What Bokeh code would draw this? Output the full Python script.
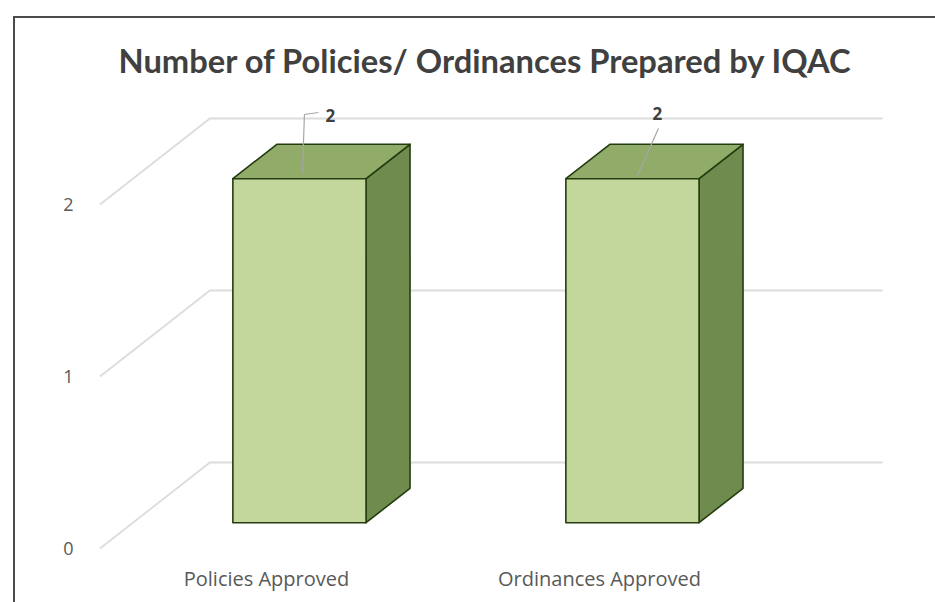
from bokeh.plotting import figure
from bokeh.models import Range1d, FixedTicker, InlineStyleSheet
from bokeh.embed import file_html
from bokeh.resources import INLINE
from bokeh.core.properties import value

# ---------------- data ----------------
categories = ["Policies Approved", "Ordinances Approved"]
counts = [2, 2]
y_ticks = [0, 1, 2]
title_text = "Number of Policies/ Ordinances Prepared by IQAC"

# ---------------- style / 3-D geometry ----------------
DX, DY = 0.33, 0.5          # projection of full depth (x units, value units)
BAR_HALF = 0.2              # half bar width (gap width 150%)
D0, D1 = 0.3, 0.7           # bar depth span (fraction of floor depth)
PX_X, PX_Y = 333.0, 172.0   # pixels per unit, used for pixel offsets of labels
X_LO, X_HI = -0.5, 1.52     # plot-area extent along x

FRONT = "#C3D69B"
TOP = "#91AB69"
SIDE = "#6F8C4E"
EDGE = "#233D10"
GRID = "#DCDCDC"
TEXT = "#595959"

def proj(x, y, d):
    return x + DX * d, y + DY * d

xs_cat = list(range(len(categories)))

p = figure(width=935, height=602, output_backend="svg", toolbar_location=None,
           x_range=Range1d(-0.5285, 2.009), y_range=Range1d(-0.0407, 2.6337),
           min_border_left=90, min_border_right=0, min_border_top=95, min_border_bottom=47)
p.outline_line_color = None
p.grid.visible = False
p.background_fill_color = "white"
p.border_fill_color = "white"

# title
p.title.text = title_text
p.title.align = "left"
p.title.offset = 28
p.title.text_font = "Lato"
p.title.text_font_style = "bold"
p.title.text_font_size = "32.7px"
p.title.text_color = "#404040"
p.title.standoff = 31

# axes
p.yaxis.ticker = FixedTicker(ticks=y_ticks)
p.yaxis.axis_line_color = None
p.yaxis.major_tick_line_color = None
p.yaxis.minor_tick_line_color = None
p.yaxis.major_label_standoff = 11
p.yaxis.major_label_text_font = "Open Sans"
p.yaxis.major_label_text_font_size = "18px"
p.yaxis.major_label_text_color = TEXT

p.xaxis.ticker = FixedTicker(ticks=xs_cat)
p.xaxis.major_label_overrides = {i: c for i, c in enumerate(categories)}
p.xaxis.axis_line_color = None
p.xaxis.major_tick_line_color = None
p.xaxis.minor_tick_line_color = None
p.xaxis.major_label_standoff = 3
p.xaxis.major_label_text_font = "Open Sans"
p.xaxis.major_label_text_font_size = "20px"
p.xaxis.major_label_text_color = TEXT

# back-wall gridlines and side-wall diagonals
gx, gy = [], []
for t in y_ticks:
    a = proj(X_LO, t, 0.0)
    b = proj(X_LO, t, 1.0)
    c = proj(X_HI, t, 1.0)
    gx.append([a[0], b[0], c[0]])
    gy.append([a[1], b[1], c[1]])
p.multi_line(gx, gy, line_color=GRID, line_width=1.8)

# bars as 3-D boxes
fx, fy, tx, ty, sx, sy = [], [], [], [], [], []
for c, v in zip(xs_cat, counts):
    l, r = c - BAR_HALF, c + BAR_HALF
    front = [proj(l, 0, D0), proj(r, 0, D0), proj(r, v, D0), proj(l, v, D0)]
    top = [proj(l, v, D0), proj(r, v, D0), proj(r, v, D1), proj(l, v, D1)]
    side = [proj(r, 0, D0), proj(r, 0, D1), proj(r, v, D1), proj(r, v, D0)]
    fx.append([q[0] for q in front]); fy.append([q[1] for q in front])
    tx.append([q[0] for q in top]); ty.append([q[1] for q in top])
    sx.append([q[0] for q in side]); sy.append([q[1] for q in side])
p.patches(sx, sy, fill_color=SIDE, line_color=EDGE, line_width=1.6, line_join="round")
p.patches(tx, ty, fill_color=TOP, line_color=EDGE, line_width=1.6, line_join="round")
p.patches(fx, fy, fill_color=FRONT, line_color=EDGE, line_width=1.6, line_join="round")

# data labels with leader lines (pixel offsets from the centre of the top face)
label_offsets = [(9, -46), (3, -48)]
leader_offsets = [[(-19, 11), (-17, -47), (-3, -49)], [(-17, 14), (4, -33)]]
lx, ly, lab_x, lab_y, lab_t = [], [], [], [], []
for c, v, lo, ld in zip(xs_cat, counts, label_offsets, leader_offsets):
    ax, ay = proj(c, v, 0.5)
    lx.append([ax + ox / PX_X for ox, oy in ld])
    ly.append([ay - oy / PX_Y for ox, oy in ld])
    lab_x.append(ax + lo[0] / PX_X)
    lab_y.append(ay - lo[1] / PX_Y)
    lab_t.append(str(v))
p.multi_line(lx, ly, line_color="#A6A6A6", line_width=1.2)
p.text(lab_x, lab_y, text=lab_t, text_align="center", text_baseline="middle",
       text_font=value("Open Sans"), text_font_style="bold", text_font_size="17px",
       text_color="#404040")

# chart-area border (only its left and top edges are inside the picture)
p.stylesheets = [InlineStyleSheet(css=(
    ":host::after { content: ''; position: absolute; left: 13px; top: 16px; "
    "right: 0; bottom: 0; border-left: 2.5px solid #4A4A4A; "
    "border-top: 2.5px solid #4A4A4A; pointer-events: none; }"))]

open("out.html", "w").write(file_html(p, INLINE))
